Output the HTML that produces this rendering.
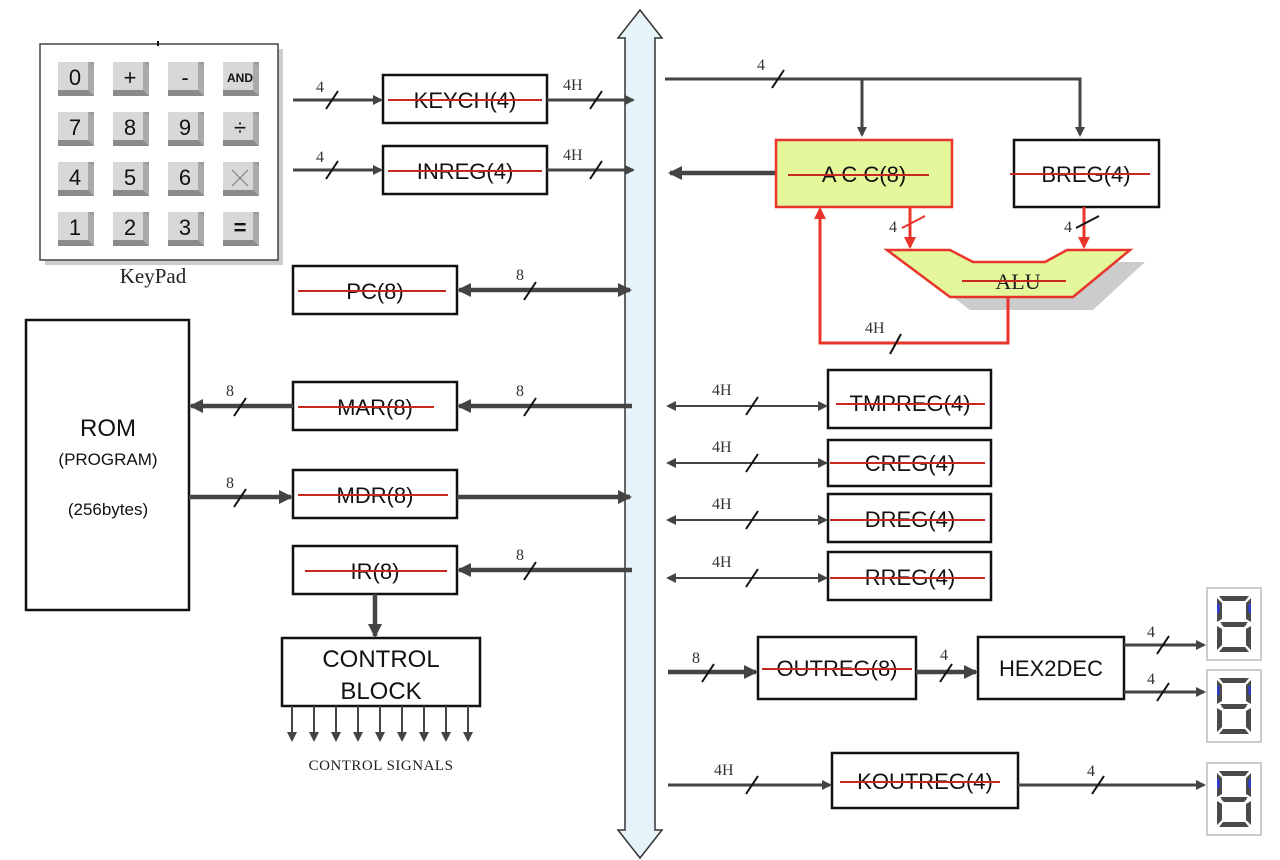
<!DOCTYPE html>
<html><head><meta charset="utf-8"><style>
html,body{margin:0;padding:0;background:#fff;}
svg{display:block;}
.box{fill:#fff;stroke:#111;stroke-width:2.5}
.t{font-family:"Liberation Sans",sans-serif;font-size:22px;fill:#111;text-anchor:middle}
.s{font-family:"Liberation Serif",serif;font-size:16px;fill:#333}
.ln{stroke:#444;stroke-width:3;fill:none}
.tk{stroke:#444;stroke-width:4.5;fill:none}
.rd{stroke:#e8342a;stroke-width:3;fill:none}
.sl{stroke:#111;stroke-width:2}
.strike{stroke:#c8281e;stroke-width:2}
.key{font-family:"Liberation Sans",sans-serif;font-size:22px;fill:#111;text-anchor:middle}
</style></head><body>
<svg width="1280" height="860" viewBox="0 0 1280 860" xmlns="http://www.w3.org/2000/svg">
<defs>
<marker id="a" markerWidth="10" markerHeight="10" refX="8" refY="5" orient="auto-start-reverse" markerUnits="userSpaceOnUse"><path d="M0,0 L10,5 L0,10 z" fill="#444"/></marker>
<marker id="ab" markerWidth="14" markerHeight="14" refX="12" refY="7" orient="auto-start-reverse" markerUnits="userSpaceOnUse"><path d="M0,0 L14,7 L0,14 z" fill="#444"/></marker>
<marker id="ar" markerWidth="12" markerHeight="12" refX="10" refY="6" orient="auto-start-reverse" markerUnits="userSpaceOnUse"><path d="M0,0 L12,6 L0,12 z" fill="#e8342a"/></marker>
<g id="key"><rect x="0" y="0" width="36" height="34" fill="#9a9a9a"/><rect x="0" y="0" width="30" height="28" fill="#d8d8d8"/><path d="M0,28 L30,28 L36,34 L0,34z" fill="#8a8a8a"/><path d="M30,0 L36,4 L36,34 L30,28z" fill="#aaa"/></g>
<g id="seg"><rect x="0" y="0" width="54" height="72" fill="#fff" stroke="#ccc" stroke-width="2"/>
<path d="M12,8 L42,8 L38,13 L16,13z M10,10 L15,15 L15,31 L10,34z M44,10 L39,15 L39,31 L44,34z M14,36 L40,36 L37,39 L17,39z M13,34 L41,34 L38,37 L16,37z M10,38 L15,41 L15,57 L10,62z M44,38 L39,41 L39,57 L44,62z M16,59 L38,59 L42,64 L12,64z" fill="#4a4a4a"/>
<rect x="10" y="16" width="2.5" height="9" fill="#2c3ecf"/><rect x="41.5" y="16" width="2.5" height="9" fill="#2c3ecf"/></g>
</defs>

<!-- bus -->
<path d="M640,10 L662,38 L655,38 L655,830 L662,830 L640,858 L618,830 L625,830 L625,38 L618,38 Z" fill="#e6f3f8" stroke="#333" stroke-width="1.5"/>

<!-- keypad -->
<rect x="45" y="49" width="238" height="216" fill="#ccc"/>
<rect x="40" y="44" width="238" height="216" fill="#fff" stroke="#444" stroke-width="1.5"/>
<line x1="158" y1="41" x2="158" y2="46" stroke="#111" stroke-width="2"/>
<g>
<use href="#key" x="58" y="62"/><use href="#key" x="113" y="62"/><use href="#key" x="168" y="62"/><use href="#key" x="223" y="62"/>
<use href="#key" x="58" y="112"/><use href="#key" x="113" y="112"/><use href="#key" x="168" y="112"/><use href="#key" x="223" y="112"/>
<use href="#key" x="58" y="162"/><use href="#key" x="113" y="162"/><use href="#key" x="168" y="162"/><use href="#key" x="223" y="162"/>
<use href="#key" x="58" y="212"/><use href="#key" x="113" y="212"/><use href="#key" x="168" y="212"/><use href="#key" x="223" y="212"/>
</g>
<text class="key" x="75" y="85">0</text><text class="key" x="130" y="85">+</text><text class="key" x="185" y="85">-</text><text class="key" x="240" y="82" style="font-size:12px;font-weight:bold">AND</text>
<text class="key" x="75" y="135">7</text><text class="key" x="130" y="135">8</text><text class="key" x="185" y="135">9</text><text class="key" x="240" y="135">÷</text>
<text class="key" x="75" y="185">4</text><text class="key" x="130" y="185">5</text><text class="key" x="185" y="185">6</text>
<path d="M232,170 L248,186 M248,170 L232,186" stroke="#777" stroke-width="1"/>
<text class="key" x="75" y="235">1</text><text class="key" x="130" y="235">2</text><text class="key" x="185" y="235">3</text><text class="key" x="240" y="235" style="font-weight:bold">=</text>
<text x="153" y="283" font-family="Liberation Serif,serif" font-size="21" fill="#222" text-anchor="middle">KeyPad</text>

<!-- ROM -->
<rect x="26" y="320" width="163" height="290" class="box"/>
<text class="t" x="108" y="436" style="font-size:24px">ROM</text>
<text class="t" x="108" y="465" style="font-size:17px">(PROGRAM)</text>
<text class="t" x="108" y="515" style="font-size:17px">(256bytes)</text>

<!-- left boxes -->
<rect x="383" y="75" width="164" height="48" class="box"/><text class="t" x="465" y="108">KEYCH(4)</text><line class="strike" x1="388" y1="100" x2="542" y2="100"/>
<rect x="383" y="146" width="164" height="48" class="box"/><text class="t" x="465" y="179">INREG(4)</text><line class="strike" x1="388" y1="171" x2="542" y2="171"/>
<rect x="293" y="266" width="164" height="48" class="box"/><text class="t" x="375" y="299">PC(8)</text><line class="strike" x1="298" y1="291" x2="446" y2="291"/>
<rect x="293" y="382" width="164" height="48" class="box"/><text class="t" x="375" y="415">MAR(8)</text><line class="strike" x1="298" y1="407" x2="434" y2="407"/>
<rect x="293" y="470" width="164" height="48" class="box"/><text class="t" x="375" y="503">MDR(8)</text><line class="strike" x1="298" y1="495" x2="448" y2="495"/>
<rect x="293" y="546" width="164" height="48" class="box"/><text class="t" x="375" y="579">IR(8)</text><line class="strike" x1="305" y1="571" x2="447" y2="571"/>
<rect x="282" y="638" width="198" height="68" class="box"/><text class="t" x="381" y="667" style="font-size:24px">CONTROL</text><text class="t" x="381" y="699" style="font-size:24px">BLOCK</text>
<g class="ln" style="stroke-width:2">
<line x1="292" y1="706" x2="292" y2="740" marker-end="url(#a)"/><line x1="314" y1="706" x2="314" y2="740" marker-end="url(#a)"/><line x1="336" y1="706" x2="336" y2="740" marker-end="url(#a)"/><line x1="358" y1="706" x2="358" y2="740" marker-end="url(#a)"/><line x1="380" y1="706" x2="380" y2="740" marker-end="url(#a)"/><line x1="402" y1="706" x2="402" y2="740" marker-end="url(#a)"/><line x1="424" y1="706" x2="424" y2="740" marker-end="url(#a)"/><line x1="446" y1="706" x2="446" y2="740" marker-end="url(#a)"/><line x1="468" y1="706" x2="468" y2="740" marker-end="url(#a)"/>
</g>
<text x="381" y="770" font-family="Liberation Serif,serif" font-size="15" fill="#222" text-anchor="middle" letter-spacing="0.5">CONTROL SIGNALS</text>

<!-- left connectors -->
<line class="ln" x1="293" y1="100" x2="381" y2="100" marker-end="url(#a)"/><text class="s" x="316" y="92">4</text><line class="sl" x1="326" y1="109" x2="338" y2="91"/>
<line class="ln" x1="547" y1="100" x2="633" y2="100" marker-end="url(#a)"/><text class="s" x="563" y="90">4H</text><line class="sl" x1="590" y1="109" x2="602" y2="91"/>
<line class="ln" x1="293" y1="170" x2="381" y2="170" marker-end="url(#a)"/><text class="s" x="316" y="162">4</text><line class="sl" x1="326" y1="179" x2="338" y2="161"/>
<line class="ln" x1="547" y1="170" x2="633" y2="170" marker-end="url(#a)"/><text class="s" x="563" y="160">4H</text><line class="sl" x1="590" y1="179" x2="602" y2="161"/>
<line class="tk" x1="459" y1="290" x2="630" y2="290" marker-start="url(#ab)" marker-end="url(#ab)"/><text class="s" x="516" y="280">8</text><line class="sl" x1="524" y1="300" x2="536" y2="282"/>
<line class="tk" x1="632" y1="406" x2="459" y2="406" marker-end="url(#ab)"/><text class="s" x="516" y="396">8</text><line class="sl" x1="524" y1="416" x2="536" y2="398"/>
<line class="tk" x1="293" y1="406" x2="191" y2="406" marker-end="url(#ab)"/><text class="s" x="226" y="396">8</text><line class="sl" x1="234" y1="416" x2="246" y2="398"/>
<line class="tk" x1="189" y1="497" x2="291" y2="497" marker-end="url(#ab)"/><text class="s" x="226" y="488">8</text><line class="sl" x1="234" y1="507" x2="246" y2="489"/>
<line class="tk" x1="457" y1="497" x2="630" y2="497" marker-end="url(#ab)"/>
<line class="tk" x1="632" y1="570" x2="459" y2="570" marker-end="url(#ab)"/><text class="s" x="516" y="560">8</text><line class="sl" x1="524" y1="580" x2="536" y2="562"/>
<line class="tk" x1="375" y1="594" x2="375" y2="636" marker-end="url(#ab)"/>

<!-- top right -->
<polyline class="ln" points="665,79 1080,79 1080,135" marker-end="url(#a)"/>
<line class="ln" x1="862" y1="79" x2="862" y2="135" marker-end="url(#a)"/>
<text class="s" x="757" y="70">4</text><line class="sl" x1="772" y1="88" x2="784" y2="70"/>
<line class="tk" x1="776" y1="173" x2="670" y2="173" marker-end="url(#ab)"/>

<!-- ACC / BREG / ALU -->
<rect x="776" y="140" width="176" height="67" fill="#e4f79a" stroke="#e8342a" stroke-width="2.5"/>
<text class="t" x="864" y="182">A C C(8)</text><line class="strike" x1="788" y1="175" x2="929" y2="175"/>
<rect x="1014" y="140" width="145" height="67" class="box"/>
<text class="t" x="1086" y="182">BREG(4)</text><line class="strike" x1="1010" y1="174" x2="1150" y2="174"/>
<path d="M907,262 L970,262 L992,276 L1065,276 L1087,262 L1145,262 L1093,310 L970,310Z" fill="#ccc"/>
<path d="M887,250 L950,250 L973,262 L1045,262 L1067,250 L1130,250 L1073,297 L950,297Z" fill="#e4f79a" stroke="#e8342a" stroke-width="2.5"/>
<text x="1018" y="289" font-family="Liberation Serif,serif" font-size="22" fill="#222" text-anchor="middle">ALU</text>
<line class="strike" x1="962" y1="281" x2="1066" y2="281"/>
<line class="rd" x1="910" y1="207" x2="910" y2="247" marker-end="url(#ar)"/>
<text class="s" x="889" y="232">4</text><line x1="902" y1="228" x2="925" y2="216" stroke="#e8342a" stroke-width="2"/>
<line class="rd" x1="1084" y1="207" x2="1084" y2="247" marker-end="url(#ar)"/>
<text class="s" x="1064" y="232">4</text><line class="sl" x1="1076" y1="228" x2="1099" y2="216"/>
<polyline class="rd" points="1008,297 1008,343 820,343 820,209" marker-end="url(#ar)"/>
<text class="s" x="865" y="333">4H</text><line class="sl" x1="890" y1="354" x2="901" y2="334"/>

<!-- right regs -->
<rect x="828" y="370" width="163" height="58" class="box"/><text class="t" x="910" y="411">TMPREG(4)</text><line class="strike" x1="836" y1="404" x2="985" y2="404"/>
<rect x="828" y="440" width="163" height="46" class="box"/><text class="t" x="910" y="471">CREG(4)</text><line class="strike" x1="830" y1="463" x2="985" y2="463"/>
<rect x="828" y="494" width="163" height="48" class="box"/><text class="t" x="910" y="527">DREG(4)</text><line class="strike" x1="830" y1="520" x2="985" y2="520"/>
<rect x="828" y="552" width="163" height="48" class="box"/><text class="t" x="910" y="585">RREG(4)</text><line class="strike" x1="830" y1="578" x2="985" y2="578"/>
<g>
<line class="ln" style="stroke-width:2" x1="668" y1="406" x2="826" y2="406" marker-start="url(#a)" marker-end="url(#a)"/><text class="s" x="712" y="395">4H</text><line class="sl" x1="746" y1="415" x2="758" y2="397"/>
<line class="ln" style="stroke-width:2" x1="668" y1="463" x2="826" y2="463" marker-start="url(#a)" marker-end="url(#a)"/><text class="s" x="712" y="452">4H</text><line class="sl" x1="746" y1="472" x2="758" y2="454"/>
<line class="ln" style="stroke-width:2" x1="668" y1="520" x2="826" y2="520" marker-start="url(#a)" marker-end="url(#a)"/><text class="s" x="712" y="509">4H</text><line class="sl" x1="746" y1="529" x2="758" y2="511"/>
<line class="ln" style="stroke-width:2" x1="668" y1="578" x2="826" y2="578" marker-start="url(#a)" marker-end="url(#a)"/><text class="s" x="712" y="567">4H</text><line class="sl" x1="746" y1="587" x2="758" y2="569"/>
</g>

<!-- OUTREG / HEX2DEC -->
<rect x="758" y="637" width="158" height="62" class="box"/><text class="t" x="837" y="676">OUTREG(8)</text><line class="strike" x1="762" y1="669" x2="912" y2="669"/>
<rect x="978" y="637" width="146" height="62" class="box"/><text class="t" x="1051" y="676">HEX2DEC</text>
<line class="tk" x1="668" y1="672" x2="756" y2="672" marker-end="url(#ab)"/><text class="s" x="692" y="663">8</text><line class="sl" x1="702" y1="682" x2="714" y2="664"/>
<line class="tk" x1="916" y1="672" x2="976" y2="672" marker-end="url(#ab)"/><text class="s" x="940" y="660">4</text><line class="sl" x1="940" y1="682" x2="952" y2="664"/>
<line class="ln" x1="1124" y1="645" x2="1204" y2="645" marker-end="url(#a)"/><text class="s" x="1147" y="637">4</text><line class="sl" x1="1157" y1="654" x2="1169" y2="636"/>
<line class="ln" x1="1124" y1="692" x2="1204" y2="692" marker-end="url(#a)"/><text class="s" x="1147" y="684">4</text><line class="sl" x1="1157" y1="701" x2="1169" y2="683"/>

<!-- KOUTREG -->
<rect x="832" y="753" width="186" height="55" class="box"/><text class="t" x="925" y="789">KOUTREG(4)</text><line class="strike" x1="840" y1="782" x2="1000" y2="782"/>
<line class="ln" x1="668" y1="785" x2="830" y2="785" marker-end="url(#a)"/><text class="s" x="714" y="775">4H</text><line class="sl" x1="746" y1="794" x2="758" y2="776"/>
<line class="ln" x1="1018" y1="785" x2="1204" y2="785" marker-end="url(#a)"/><text class="s" x="1087" y="776">4</text><line class="sl" x1="1092" y1="794" x2="1104" y2="776"/>

<use href="#seg" x="1207" y="588"/>
<use href="#seg" x="1207" y="670"/>
<use href="#seg" x="1207" y="763"/>
</svg>
</body></html>
